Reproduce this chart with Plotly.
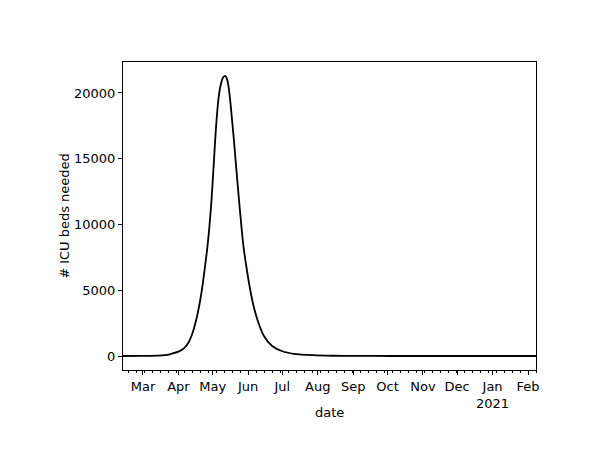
import plotly.graph_objects as go

# ICU beds needed over time
dates = [
    "2020-02-12 12:00", "2020-02-28", "2020-03-07", "2020-03-14", "2020-03-20",
    "2020-03-26", "2020-04-01", "2020-04-06", "2020-04-10", "2020-04-13",
    "2020-04-16", "2020-04-18", "2020-04-20", "2020-04-22", "2020-04-24",
    "2020-04-26", "2020-04-28", "2020-04-30", "2020-05-02", "2020-05-04",
    "2020-05-06", "2020-05-08", "2020-05-10", "2020-05-12", "2020-05-14",
    "2020-05-16", "2020-05-18", "2020-05-20", "2020-05-22", "2020-05-24",
    "2020-05-26", "2020-05-28", "2020-05-31", "2020-06-02", "2020-06-05",
    "2020-06-09", "2020-06-15", "2020-06-22", "2020-07-01", "2020-07-11",
    "2020-07-28", "2020-08-14", "2020-09-03", "2020-10-03", "2020-11-15",
    "2021-02-08",
]
icu_beds = [
    1, 4, 10, 25, 60,
    170, 330, 600, 1050, 1650,
    2550, 3300, 4200, 5300, 6600,
    8000, 9700, 11900, 14700, 17500,
    19500, 20600, 21150, 21290, 20900,
    19700, 17900, 16000, 13900, 11900,
    10000, 8300, 6500, 5450, 4100,
    2800, 1500, 760, 360, 170,
    60, 20, 6, 2, 0,
    0,
]

month_ticks = [
    "2020-03-01", "2020-04-01", "2020-05-01", "2020-06-01", "2020-07-01",
    "2020-08-01", "2020-09-01", "2020-10-01", "2020-11-01", "2020-12-01",
    "2021-01-01", "2021-02-01",
]
month_labels = ["Mar", "Apr", "May", "Jun", "Jul", "Aug", "Sep", "Oct",
                "Nov", "Dec", "Jan<br>2021", "Feb"]

y_ticks = [0, 5000, 10000, 15000, 20000]

fig = go.Figure()
fig.add_trace(go.Scatter(
    x=dates, y=icu_beds, mode="lines",
    line=dict(color="black", width=1.8, shape="spline", smoothing=0.8),
    showlegend=False,
))

font = dict(family="DejaVu Sans", size=13, color="black")

# page body has an 8px margin, so the figure is sized to fit inside it
fig.update_layout(
    width=582, height=456,
    margin=dict(l=115, r=54, t=54, b=94),
    plot_bgcolor="white", paper_bgcolor="white",
    font=font,
    xaxis=dict(
        range=["2020-02-12 12:00", "2021-02-08"],
        tickvals=month_ticks, ticktext=month_labels,
        ticks="outside", ticklen=4, tickcolor="black", tickwidth=1,
        showline=True, linecolor="black", linewidth=1, mirror=True,
        showgrid=False, zeroline=False,
        minor=dict(dtick=7 * 86400000, tick0="2020-02-17", ticks="outside",
                   ticklen=2, tickcolor="black", showgrid=False),
    ),
    yaxis=dict(
        range=[-1064, 22352],
        tickvals=y_ticks, ticktext=[str(v) for v in y_ticks],
        ticks="outside", ticklen=4, tickcolor="black", tickwidth=1,
        showline=True, linecolor="black", linewidth=1, mirror=True,
        showgrid=False, zeroline=False,
        title=dict(text="# ICU beds needed", font=font, standoff=1),
    ),
    annotations=[
        dict(text="date", x=0.5, y=0, xref="paper", yref="paper",
             xanchor="center", yanchor="middle", yshift=-42,
             showarrow=False, font=font),
    ],
)

fig.write_html("out.html")
